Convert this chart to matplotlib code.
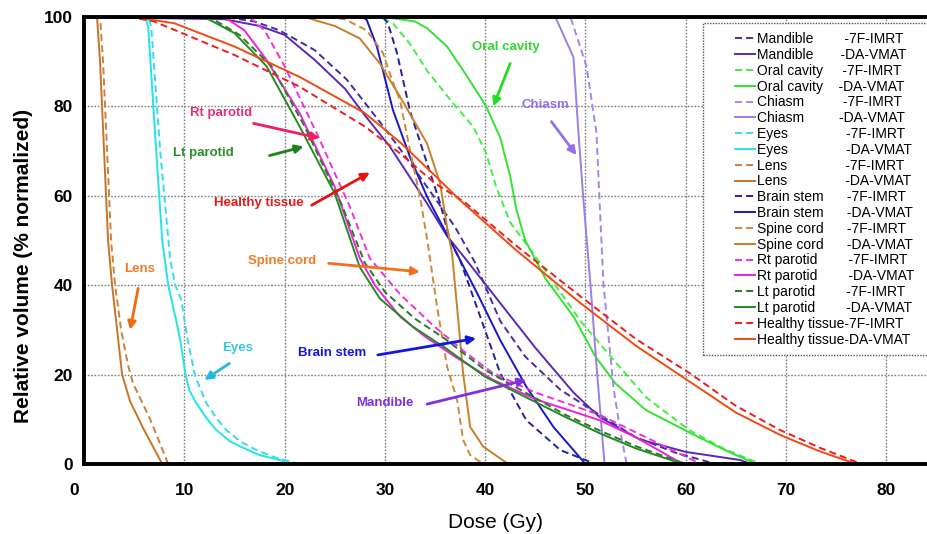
import matplotlib
matplotlib.use('Agg')
import matplotlib.pyplot as plt
from matplotlib.patches import Rectangle
from matplotlib.transforms import ScaledTranslation

plt.rcParams['font.family'] = ['Liberation Sans', 'DejaVu Sans']

# --- DVH data: dose (Gy) vs relative volume (%) ---
mandible_imrt_dose = [0, 14, 17, 19.5, 23, 26.2, 29.5, 31.5, 34.2, 37, 39, 41.5, 44, 47.5, 51.4, 55, 59, 63]
mandible_imrt_vol = [100, 100, 99, 97, 92.6, 86, 76.5, 70.5, 62, 53, 45, 32, 24, 16.6, 11, 6, 2.5, 0]
mandible_vmat_dose = [0, 14, 17.5, 20, 23, 26, 28, 30.5, 34.2, 36.2, 38, 41.5, 45, 48.8, 51.4, 55.4, 60, 65.4, 66.5]
mandible_vmat_vol = [100, 99.5, 98, 96, 90.4, 84, 78, 71, 58.3, 51, 46, 36, 26, 16, 10.5, 5.5, 2.7, 0.9, 0]

oral_imrt_dose = [0, 29.5, 30.8, 32.5, 34.2, 36.8, 38.8, 40.1, 41.1, 42.5, 44.5, 47, 49.5, 52.8, 56, 60.4, 64, 67.5]
oral_imrt_vol = [100, 100, 98.6, 94, 88, 80.7, 75.5, 69.5, 62, 54, 48, 40, 32, 23.3, 15, 7.5, 3.2, 0]
oral_vmat_dose = [0, 30, 33, 34.2, 36.2, 38.2, 40.1, 41.5, 42.5, 43.1, 44, 46, 48.8, 51, 53, 56, 60.4, 64, 67]
oral_vmat_vol = [100, 100, 99, 97.5, 93.4, 86.7, 80, 73, 64.3, 57, 50, 41.5, 33, 24, 18, 12.1, 7, 3, 0]

chiasm_imrt_dose = [0, 48.5, 50.1, 51.1, 51.4, 51.8, 52.8, 53.5, 54.1]
chiasm_imrt_vol = [100, 100, 89, 74, 59, 40, 17, 7, 0]
chiasm_vmat_dose = [0, 47, 48.8, 49.3, 49.8, 50.5, 51.1, 51.9]
chiasm_vmat_vol = [100, 100, 91, 74, 59, 40, 22, 0]

eyes_imrt_dose = [0, 6.4, 6.7, 7.6, 8.6, 9.1, 9.7, 10.4, 11.1, 12.2, 13.2, 14.2, 15.6, 17.2, 19.0, 21.5]
eyes_imrt_vol = [100, 100, 97.8, 70, 45.6, 40, 36.7, 27, 19.5, 13.6, 10.3, 7.6, 5, 3.1, 1.5, 0]
eyes_vmat_dose = [0, 6.1, 6.4, 7.2, 7.8, 8.4, 9.2, 9.6, 10.1, 10.5, 11.2, 12.2, 13.2, 14.6, 15.6, 17.5, 19.5, 20.9]
eyes_vmat_vol = [100, 100, 97.8, 70, 50, 40, 32, 27.7, 20.3, 16.5, 13.6, 10.3, 7.6, 5, 3.9, 2, 0.9, 0]

lens_imrt_dose = [0, 1.6, 1.9, 2.3, 2.7, 3.1, 3.7, 4.4, 4.9, 6.6, 8.4]
lens_imrt_vol = [100, 100, 90, 70, 50, 40, 30, 22, 18, 10, 0]
lens_vmat_dose = [0, 1.3, 1.6, 2.0, 2.4, 2.8, 3.3, 3.8, 4.6, 5.9, 7.8]
lens_vmat_vol = [100, 100, 90, 70, 50, 40, 30, 20, 14, 8, 0]

brain_imrt_dose = [0, 29.8, 30.3, 31.2, 32.5, 34.2, 35.5, 36.5, 37.5, 39.5, 41.5, 44.1, 47.5, 51]
brain_imrt_vol = [100, 100, 98.6, 92, 79, 67.3, 58.4, 50, 45.6, 33, 20.3, 9.8, 3.1, 0]
brain_vmat_dose = [0, 27.8, 28.2, 29.2, 30.8, 32.5, 34.2, 36.5, 39.2, 41.5, 44.1, 46.8, 50]
brain_vmat_vol = [100, 100, 99.3, 93.4, 79.2, 68.7, 59.8, 50, 38.2, 27.7, 17.3, 8.3, 0]

spine_imrt_dose = [0, 24, 26, 28.2, 29.8, 30.7, 31.5, 32.5, 33.5, 34.3, 35.2, 36.2, 37.2, 37.8, 38.5, 39.8]
spine_imrt_vol = [100, 100, 99.5, 97, 92, 86, 81.4, 70.2, 59.8, 49, 35.2, 21.8, 14.3, 5.4, 2, 0]
spine_vmat_dose = [0, 22, 23, 25, 27.5, 29.5, 31.5, 34.2, 35.5, 36.2, 36.7, 37.2, 37.8, 38.5, 39.8, 42.3]
spine_vmat_vol = [100, 100, 99.3, 98, 95.2, 89.6, 82.2, 71.7, 62.8, 53, 47, 35, 20.3, 8.3, 3.9, 0]

rtpar_imrt_dose = [0, 16.5, 18, 20, 23.2, 26.5, 28.5, 31.5, 34.8, 38, 40.8, 45, 51.4, 56, 61.5]
rtpar_imrt_vol = [100, 100, 97, 89, 74, 57.6, 46, 38, 31, 25, 20.3, 16, 11, 6, 0]
rtpar_vmat_dose = [0, 14, 16, 18.2, 21.5, 25, 27.5, 29, 31.5, 34, 37, 40.8, 45, 51.4, 55, 59.7]
rtpar_vmat_vol = [100, 100, 97, 90.4, 78.5, 62, 46, 40, 33, 28.5, 24, 18.8, 14.5, 9.8, 6, 0]

ltpar_imrt_dose = [0, 12.5, 15.5, 18.7, 22, 25.7, 28, 30, 33, 36, 40, 44, 48, 51.4, 55, 60]
ltpar_imrt_vol = [100, 100, 96, 89, 75.5, 58, 45, 38.5, 32.5, 28, 21, 16, 11, 7.5, 4, 0]
ltpar_vmat_dose = [0, 12, 15, 18.2, 21.5, 25, 27.5, 29.5, 32.8, 36, 40, 44, 48, 51.4, 55, 59.7]
ltpar_vmat_vol = [100, 100, 96.4, 89, 75.5, 60.5, 44, 37, 30.7, 26, 19.5, 15, 10.5, 6.9, 3.5, 0]

healthy_imrt_dose = [0, 5, 7, 15, 21.5, 28, 31.5, 35, 38, 43, 49.5, 55, 60.4, 65, 69.4, 73.4, 77.5]
healthy_imrt_vol = [100, 99.8, 99, 91.5, 84.4, 75.5, 69.5, 62.8, 58.5, 49, 37.5, 28, 20.3, 13, 7.6, 3.6, 0]
healthy_vmat_dose = [0, 5, 9, 15, 21.5, 28, 31.5, 35, 37.5, 43, 49.5, 55, 60.4, 65, 69.4, 73.4, 77]
healthy_vmat_vol = [100, 100, 98.6, 93.4, 86.6, 78.5, 72, 64.5, 59, 48, 36, 26.5, 18.4, 11.5, 6.5, 2.8, 0]

structures = ['Mandible', 'Oral cavity', 'Chiasm', 'Eyes', 'Lens', 'Brain stem',
              'Spine cord', 'Rt parotid', 'Lt parotid', 'Healthy tissue']
x_ticks = [0, 10, 20, 30, 40, 50, 60, 70, 80]
y_ticks = [0, 20, 40, 60, 80, 100]

# --- styles ---
curves = [
    # (imrt dose, imrt vol, vmat dose, vmat vol, imrt colour, vmat colour, pad imrt, pad vmat)
    (mandible_imrt_dose, mandible_imrt_vol, mandible_vmat_dose, mandible_vmat_vol, '#4B2AA0', '#5A28B8', 8, 7),
    (oral_imrt_dose, oral_imrt_vol, oral_vmat_dose, oral_vmat_vol, '#44EE44', '#33E233', 5, 4),
    (chiasm_imrt_dose, chiasm_imrt_vol, chiasm_vmat_dose, chiasm_vmat_vol, '#A487EE', '#9B7EE6', 10, 9),
    (eyes_imrt_dose, eyes_imrt_vol, eyes_vmat_dose, eyes_vmat_vol, '#33DDEE', '#22E5E5', 15, 15),
    (lens_imrt_dose, lens_imrt_vol, lens_vmat_dose, lens_vmat_vol, '#CC8040', '#C87428', 15, 15),
    (brain_imrt_dose, brain_imrt_vol, brain_vmat_dose, brain_vmat_vol, '#22229A', '#1818C8', 6, 6),
    (spine_imrt_dose, spine_imrt_vol, spine_vmat_dose, spine_vmat_vol, '#D08838', '#C8802A', 6, 6),
    (rtpar_imrt_dose, rtpar_imrt_vol, rtpar_vmat_dose, rtpar_vmat_vol, '#EE33DD', '#EE22DD', 8, 8),
    (ltpar_imrt_dose, ltpar_imrt_vol, ltpar_vmat_dose, ltpar_vmat_vol, '#2A7A2A', '#228B22', 8, 8),
    (healthy_imrt_dose, healthy_imrt_vol, healthy_vmat_dose, healthy_vmat_vol, '#EE1C1C', '#F04A14', 0, 0),
]
DASH = (0, (3.6, 2.1))

# annotation: text, text pos, arrow tail, arrow head, text colour, arrow colour
notes = [
    ('Oral cavity', (42.1, 93.4), (42.5, 89.6), (40.8, 80.0), '#33D633', '#22DD22'),
    ('Chiasm', (46.0, 80.3), (46.6, 76.6), (49.1, 69.1), '#9570E8', '#9570E8'),
    ('Rt parotid', (13.7, 78.6), (16.9, 76.2), (23.5, 72.9), '#E0307A', '#EE2060'),
    ('Lt parotid', (11.9, 69.6), (18.5, 69.0), (21.9, 71.0), '#2E8B2E', '#208020'),
    ('Healthy tissue', (17.4, 58.5), (22.7, 57.9), (28.5, 65.2), '#E81818', '#EE1010'),
    ('Spine cord', (19.7, 45.4), (24.4, 44.9), (33.5, 43.0), '#F07A28', '#F07020'),
    ('Lens', (5.5, 43.6), (5.4, 39.3), (4.6, 30.0), '#F07A28', '#F06A10'),
    ('Eyes', (15.35, 26.0), (14.5, 22.5), (12.0, 18.8), '#33C8DD', '#22BBDD'),
    ('Brain stem', (24.7, 24.9), (29.3, 24.4), (39.1, 28.1), '#1515D8', '#1515E0'),
    ('Mandible', (30.0, 13.6), (34.2, 13.4), (44.1, 18.8), '#7F2FE0', '#8030E0'),
]

fig = plt.figure(figsize=(9.28, 5.34), dpi=100)
ax = fig.add_axes([84 / 928, 70 / 534, 844 / 928, 447 / 534])

handles = []
labels = []
for name, c in zip(structures, curves):
    d1, v1, d2, v2, c1, c2, p1, p2 = c
    h1, = ax.plot(d1, v1, color=c1, lw=1.4, linestyle=DASH, zorder=3)
    h2, = ax.plot(d2, v2, color=c2, lw=1.4, zorder=3)
    handles += [h1, h2]
    labels += [name + ' ' * p1 + '-7F-IMRT', name + ' ' * p2 + '-DA-VMAT']

for txt, tpos, tail, head, tc, ac in notes:
    ax.text(tpos[0], tpos[1], txt, color=tc, fontsize=9.5, fontweight='bold',
            ha='center', va='center', zorder=4)
    ax.annotate('', xy=head, xytext=tail,
                arrowprops=dict(arrowstyle='-|>', color=ac, lw=2, mutation_scale=12,
                                shrinkA=0, shrinkB=0), zorder=4)

ax.set_xlim(0, 84.15)
ax.set_ylim(0, 100)
ax.set_xticks(x_ticks)
ax.set_yticks(y_ticks)
ax.tick_params(length=0, labelsize=12.5)
ax.tick_params(axis='x', pad=14)
ax.tick_params(axis='y', pad=8)
for lab in ax.get_xticklabels() + ax.get_yticklabels():
    lab.set_fontweight('bold')
# the "0" under the axis sits a little left of the corner in the original
zero_lab = ax.get_xticklabels()[0]
zero_lab.set_transform(zero_lab.get_transform() + ScaledTranslation(-0.1, 0, fig.dpi_scale_trans))

ax.grid(True, color='#808080', linestyle=(0, (1.2, 1.2)), lw=1, zorder=1)
ax.set_axisbelow(True)
for side in ['left', 'top', 'bottom']:
    ax.spines[side].set_linewidth(2.8)
    ax.spines[side].set_zorder(6)
ax.spines['right'].set_visible(False)

# legend box drawn separately (dotted frame, cut off at the right edge)
ax.add_patch(Rectangle((0.7334, 0.244), 0.4, 0.743, transform=ax.transAxes,
                       facecolor='white', edgecolor='#555555', linestyle=(0, (1, 1)),
                       lw=1, zorder=5))
leg = ax.legend(handles, labels, loc='upper left', bbox_to_anchor=(0.7713, 0.966),
                frameon=False, fontsize=10, handlelength=1.45, handletextpad=0.15,
                labelspacing=0.13, borderpad=0, borderaxespad=0)
leg.set_zorder(7)

fig.text(495 / 928, 1 - 522 / 534, 'Dose (Gy)', fontsize=15, ha='center', va='center')
fig.text(24 / 928, 1 - 266 / 534, 'Relative volume (% normalized)', fontsize=15,
         fontweight='bold', rotation=90, ha='center', va='center')

fig.savefig('out.png', dpi=100)
